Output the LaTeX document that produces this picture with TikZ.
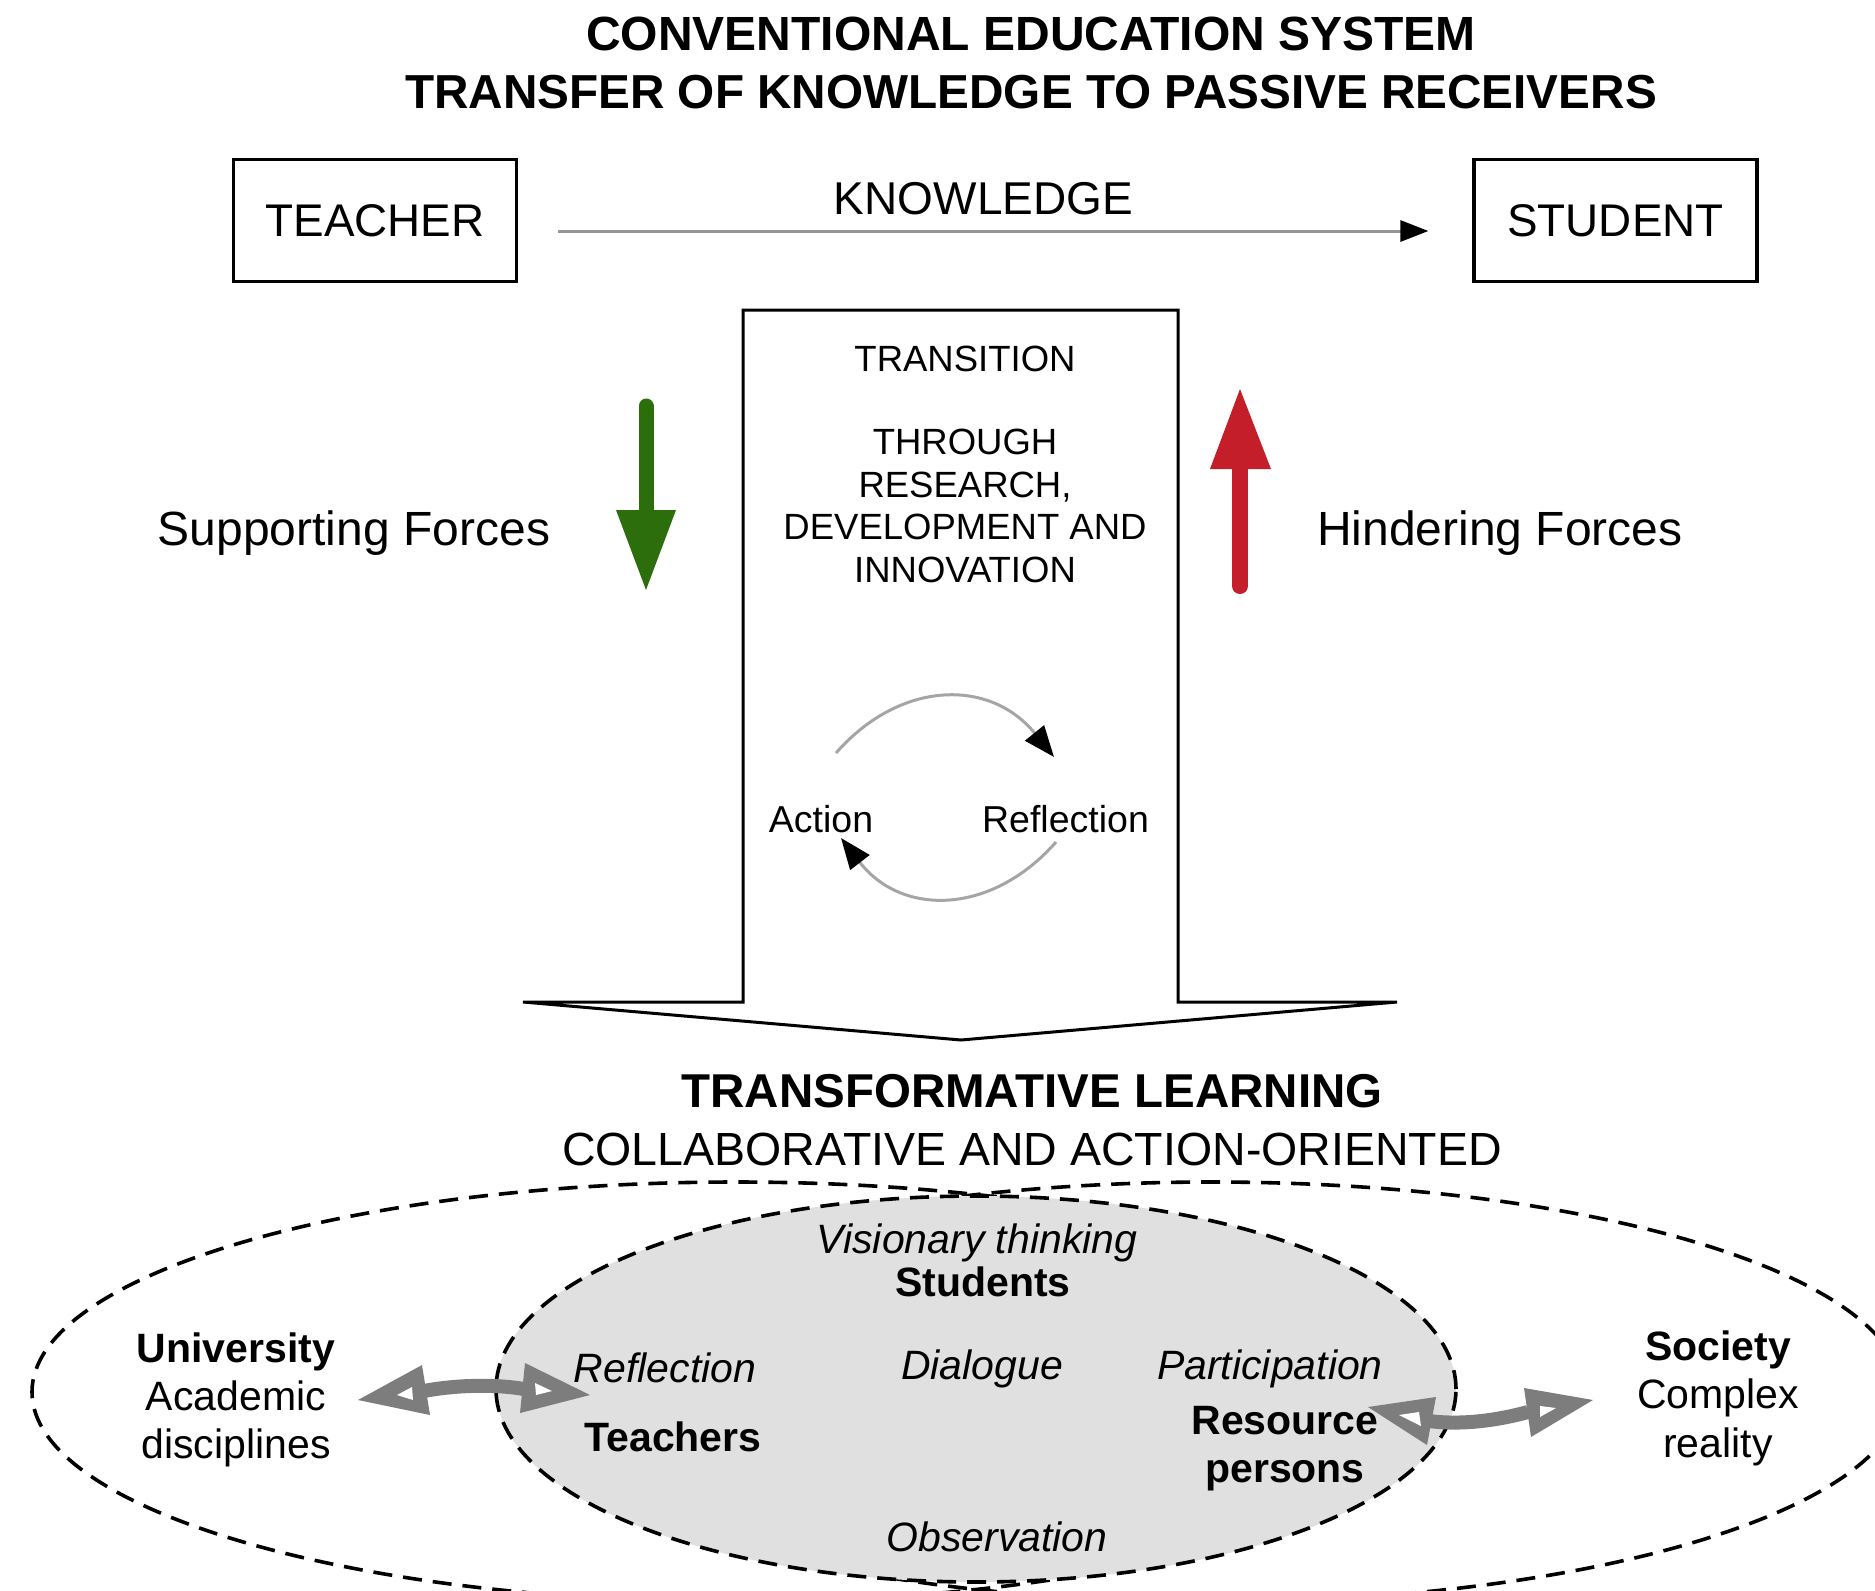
\documentclass[tikz,border=0pt]{standalone}
\usepackage{fontspec}
\setmainfont{Liberation Sans}
\usetikzlibrary{arrows.meta}
\definecolor{fgreen}{RGB}{45,110,12}
\definecolor{fred}{RGB}{196,30,42}
\definecolor{lgrey}{RGB}{224,224,224}
\definecolor{agrey}{RGB}{125,125,125}
\definecolor{kgrey}{RGB}{150,150,150}
\definecolor{cgrey}{RGB}{165,165,165}
\newcommand\myfs[1]{\fontsize{#1}{#1}\selectfont}
\begin{document}
\begin{tikzpicture}[x=1pt,y=-1pt,
  txt/.style={inner sep=0pt, anchor=base},
  box/.style={draw, line width=3.2pt, minimum width=283pt, minimum height=122pt,
     inner sep=0pt, font=\myfs{45.8}, text height=32.8pt, text depth=0pt},
  kline/.style={line width=3pt, kgrey, -{Triangle[length=28pt,width=21pt,color=black]}},
  cyc/.style={line width=3pt, cgrey, -{Triangle[length=31pt,width=24pt,color=black]}},
  dsh/.style={line width=3.6pt, dash pattern=on 19pt off 11pt},
  it41/.style={txt, font=\myfs{41}\itshape},
  bf41/.style={txt, font=\myfs{41}\bfseries},
  rm41/.style={txt, font=\myfs{41}},
  tr/.style={txt, font=\myfs{36.5}}]
\useasboundingbox (0,0) rectangle (1875,1591);

% titles
\node[txt, font=\myfs{48}\bfseries] (title1) at (1031,50) {CONVENTIONAL EDUCATION SYSTEM};
\node[txt, font=\myfs{47.7}\bfseries] (title2) at (1031,108) {TRANSFER OF KNOWLEDGE TO PASSIVE RECEIVERS};

% teacher / student
\node[box] (teacher) at (375,220.5) {TEACHER};
\node[box] (student) at (1615.5,220.5) {STUDENT};
\node[txt, font=\myfs{46}] (know) at (983.5,214.5) {KNOWLEDGE};
\draw[kline, shorten <=39.5pt, shorten >=44pt]
  ([yshift=-10.5pt]teacher.east) -- ([yshift=-10.5pt]student.west);

% transition arrow
\draw[line width=3pt, line join=miter]
  (743,310) -- (1178,310) -- (1178,1002) -- (1397,1002) -- (961,1040)
  -- (523,1002) -- (743,1002) -- cycle;
\node[tr] (trans) at (965,371) {TRANSITION};
\node[tr] (thr1) at (965,454) {THROUGH};
\node[tr] (thr2) at (965,497) {RESEARCH,};
\node[tr] (thr3) at (965,539) {DEVELOPMENT AND};
\node[tr] (thr4) at (965,582) {INNOVATION};

% action / reflection cycle
\node[txt, font=\myfs{37.5}] (action) at (821,832) {Action};
\node[txt, font=\myfs{37.5}] (reflect) at (1065.5,832) {Reflection};
\coordinate (ca1) at (836,753);
\coordinate (ca2) at (1054,757);
\coordinate (cb1) at (1056,842);
\coordinate (cb2) at (841,838);
\draw[cyc] (ca1) .. controls (900,680) and (990,678) .. (ca2);
\draw[cyc] (cb1) .. controls (992,915) and (902,917) .. (cb2);

% forces
\draw[line width=15pt, fgreen, line cap=round] (646,406) -- (646,515);
\fill[fgreen] (616,510) -- (676,510) -- (646,590) -- cycle;
\draw[line width=16pt, fred, line cap=round] (1240,586) -- (1240,465);
\fill[fred] (1210,469) -- (1271,469) -- (1240,389) -- cycle;
\node[txt, font=\myfs{48}] (sup) at (354,545) {Supporting Forces};
\node[txt, font=\myfs{48}] (hin) at (1500,545) {Hindering Forces};

% transformative learning
\node[txt, font=\myfs{47.5}\bfseries] (tl1) at (1032,1107) {TRANSFORMATIVE LEARNING};
\node[txt, font=\myfs{46.5}] (tl2) at (1032,1165) {COLLABORATIVE AND ACTION-ORIENTED};

% ellipses
\draw[dsh] (736,1392) ellipse [x radius=704pt, y radius=210pt];
\draw[dsh] (1212,1392) ellipse [x radius=690pt, y radius=210pt];
\draw[dsh, fill=lgrey] (976,1389) ellipse [x radius=480pt, y radius=193pt];

% ellipse texts
\node[it41] (vis) at (977,1253) {Visionary thinking};
\node[bf41] (stud) at (983,1296) {Students};
\node[bf41] (univ) at (236,1362) {University};
\node[rm41] (acad) at (236,1410) {Academic};
\node[rm41] (disc) at (236,1458) {disciplines};
\node[bf41] (soc) at (1718,1360) {Society};
\node[rm41] (comp) at (1718,1408) {Complex};
\node[rm41] (real) at (1718,1457) {reality};
\node[it41] (refl) at (665,1382) {Reflection};
\node[bf41] (teach) at (673,1451) {Teachers};
\node[it41] (dial) at (982,1379) {Dialogue};
\node[it41] (part) at (1270,1379) {Participation};
\node[bf41] (res1) at (1285,1434) {Resource};
\node[bf41] (res2) at (1285,1482) {persons};
\node[it41] (obs) at (997,1551) {Observation};

% left double arrow
\coordinate (la1) at (424,1391);
\coordinate (la2) at (524,1389);
\draw[agrey, line width=14pt] (la1) .. controls (455,1385) and (495,1384) .. (la2);
\fill[agrey] (358,1400) -- (422,1365) -- (430,1415) -- cycle;
\fill[white] (397,1395) -- (412,1387) -- (413,1400) -- cycle;
\fill[agrey] (590,1395) -- (525,1363) -- (520,1413) -- cycle;
\fill[white] (552,1391) -- (535,1383) -- (536,1395) -- cycle;

% right double arrow
\coordinate (ra1) at (1429,1421);
\coordinate (ra2) at (1528,1412);
\draw[agrey, line width=14pt] (ra1) .. controls (1460,1425) and (1495,1421) .. (ra2);
\fill[agrey] (1368,1407) -- (1436,1397) -- (1427,1445) -- cycle;
\fill[white] (1399,1415) -- (1419,1412) -- (1421,1426) -- cycle;
\fill[agrey] (1593,1400) -- (1524,1388) -- (1531,1437) -- cycle;
\fill[white] (1556,1408) -- (1540,1406) -- (1540,1417) -- cycle;
\end{tikzpicture}
\end{document}
